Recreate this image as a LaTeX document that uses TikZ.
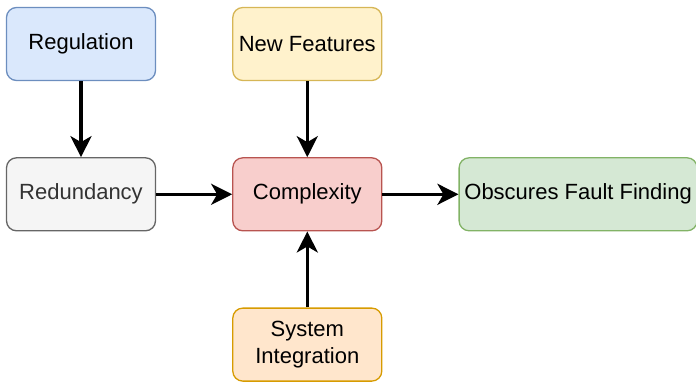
\documentclass[tikz,border=0pt]{standalone}
\usepackage{fontspec}
\setmainfont{Liberation Sans}
\usepackage{xcolor}
\definecolor{regfill}{HTML}{dae8fc}
\definecolor{regline}{HTML}{6c8ebf}
\definecolor{featfill}{HTML}{fff2cc}
\definecolor{featline}{HTML}{d6b656}
\definecolor{redfill}{HTML}{f5f5f5}
\definecolor{redline}{HTML}{666666}
\definecolor{redtext}{HTML}{333333}
\definecolor{cplxfill}{HTML}{f8cecc}
\definecolor{cplxline}{HTML}{b85450}
\definecolor{obsfill}{HTML}{d5e8d4}
\definecolor{obsline}{HTML}{82b366}
\definecolor{sysfill}{HTML}{ffe6cc}
\definecolor{sysline}{HTML}{d79b00}
\usetikzlibrary{positioning}
\usetikzlibrary{arrows.meta}

\tikzset{
  box/.style={draw, rounded corners=10pt, line width=1.3pt, minimum width=149pt,
    minimum height=73pt, inner sep=2pt, align=center,
    font=\fontsize{22}{27}\selectfont},
  flow/.style={-{Stealth[length=21pt,width=21pt,inset=6pt]}, line width=3.4pt}
}

\begin{document}
\begin{tikzpicture}[node distance=76pt]
    \useasboundingbox (0,0) rectangle (696pt,-381pt);

    \node [box, fill=regfill, draw=regline] (reg) at (81pt,-44pt) {Regulation};
    \node [box, fill=featfill, draw=featline, right=76pt of reg] (feat) {New Features};
    \node [box, fill=redfill, draw=redline, text=redtext, below=76pt of reg] (red) {Redundancy};
    \node [box, fill=cplxfill, draw=cplxline, right=76pt of red] (cplx) {Complexity};
    \node [box, fill=obsfill, draw=obsline, minimum width=238pt, right=76pt of cplx] (obs) {Obscures Fault Finding};
    \node [box, fill=sysfill, draw=sysline, below=76pt of cplx] (sys) {System\\Integration};

    \draw [flow] (reg) -- (red);
    \draw [flow] (feat) -- (cplx);
    \draw [flow] (red) -- (cplx);
    \draw [flow] (sys) -- (cplx);
    \draw [flow] (cplx) -- (obs);
\end{tikzpicture}
\end{document}
